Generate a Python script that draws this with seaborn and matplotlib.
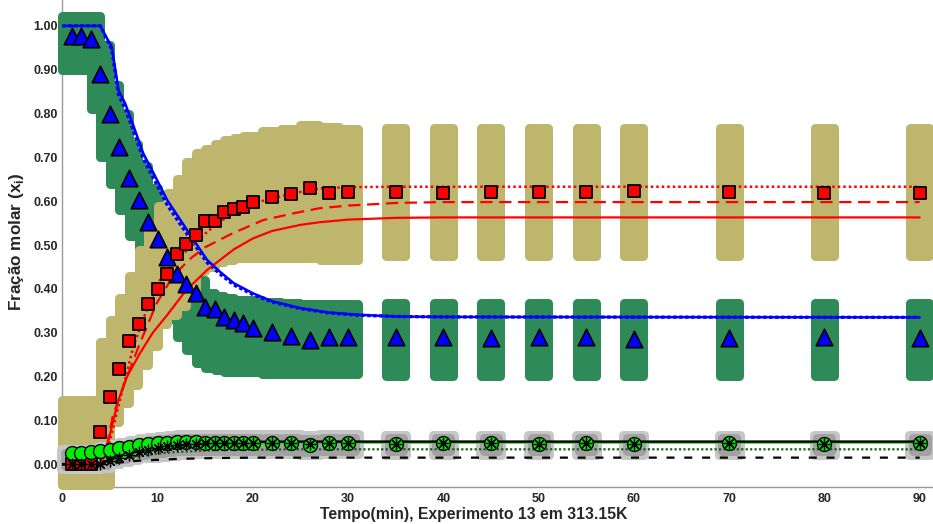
import matplotlib
matplotlib.use("Agg")
import matplotlib.pyplot as plt
from matplotlib.patches import Rectangle
import seaborn as sns

sns.set_theme(style="white")
plt.rcParams['font.family'] = ['Liberation Sans', 'DejaVu Sans']
plt.rcParams['mathtext.fontset'] = 'custom'
plt.rcParams['mathtext.rm'] = 'Liberation Sans'
plt.rcParams['mathtext.bf'] = 'Liberation Sans:bold'

# ---- experimental data (time in min, molar fractions) ----
tempo = [1, 2, 3, 4, 5, 6, 7, 8, 9, 10, 11, 12, 13, 14, 15, 16, 17, 18, 19, 20,
         22, 24, 26, 28, 30, 35, 40, 45, 50, 55, 60, 70, 80, 90]

x_triang = [0.977, 0.977, 0.969, 0.890, 0.800, 0.724, 0.652, 0.603, 0.552, 0.513,
            0.473, 0.435, 0.411, 0.390, 0.359, 0.355, 0.335, 0.329, 0.321, 0.310,
            0.302, 0.292, 0.283, 0.290, 0.290, 0.290, 0.290, 0.287, 0.290, 0.290,
            0.286, 0.288, 0.290, 0.288]
x_quad = [0.000, 0.000, 0.000, 0.073, 0.153, 0.217, 0.280, 0.320, 0.366, 0.399,
          0.434, 0.479, 0.502, 0.523, 0.555, 0.555, 0.575, 0.582, 0.587, 0.599,
          0.609, 0.616, 0.629, 0.618, 0.620, 0.622, 0.618, 0.620, 0.620, 0.620,
          0.623, 0.620, 0.619, 0.618]
x_circ = [0.025, 0.026, 0.027, 0.029, 0.033, 0.036, 0.040, 0.043, 0.046, 0.048,
          0.049, 0.050, 0.050, 0.050, 0.049, 0.049, 0.049, 0.049, 0.049, 0.049,
          0.048, 0.048, 0.044, 0.048, 0.048, 0.047, 0.048, 0.048, 0.047, 0.048,
          0.047, 0.048, 0.047, 0.049]
x_ast = [0.000, 0.000, 0.000, 0.000, 0.008, 0.015, 0.022, 0.028, 0.033, 0.037,
         0.041, 0.044, 0.046, 0.047, 0.048, 0.048, 0.048, 0.048, 0.048, 0.048,
         0.048, 0.048, 0.045, 0.048, 0.048, 0.047, 0.048, 0.048, 0.047, 0.048,
         0.047, 0.048, 0.047, 0.049]

# uncertainty ranges (lower / upper) for each measured point
triang_lo = [0.89, 0.89, 0.89, 0.80, 0.69, 0.63, 0.57, 0.51, 0.47, 0.44,
             0.40, 0.32, 0.28, 0.25, 0.22, 0.21, 0.205, 0.20, 0.20, 0.20,
             0.195, 0.195, 0.195, 0.195, 0.195, 0.19, 0.19, 0.19, 0.19, 0.19,
             0.19, 0.19, 0.19, 0.19]
triang_hi = [1.032, 1.032, 1.032, 0.967, 0.875, 0.81, 0.74, 0.69, 0.64, 0.60,
             0.56, 0.52, 0.46, 0.43, 0.40, 0.395, 0.39, 0.385, 0.385, 0.385,
             0.38, 0.378, 0.376, 0.375, 0.375, 0.377, 0.377, 0.377, 0.377, 0.377,
             0.377, 0.377, 0.377, 0.377]
quad_lo = [-0.057, -0.057, -0.057, -0.057, 0.085, 0.13, 0.17, 0.215, 0.26, 0.31,
           0.33, 0.35, 0.39, 0.43, 0.44, 0.45, 0.455, 0.46, 0.46, 0.46,
           0.46, 0.46, 0.46, 0.455, 0.455, 0.465, 0.465, 0.465, 0.465, 0.465,
           0.465, 0.465, 0.465, 0.465]
quad_hi = [0.157, 0.157, 0.157, 0.157, 0.29, 0.34, 0.39, 0.44, 0.50, 0.55,
           0.60, 0.63, 0.66, 0.70, 0.72, 0.73, 0.74, 0.75, 0.755, 0.76,
           0.77, 0.775, 0.785, 0.78, 0.775, 0.777, 0.777, 0.777, 0.777, 0.777,
           0.777, 0.777, 0.777, 0.777]
circ_lo = [-0.022, -0.022, -0.022, -0.020, -0.010, -0.005, 0.000, 0.003, 0.005, 0.007,
           0.009, 0.011, 0.012, 0.012, 0.012, 0.012, 0.012, 0.012, 0.012, 0.012,
           0.012, 0.012, 0.010, 0.012, 0.012, 0.011, 0.011, 0.011, 0.011, 0.011,
           0.011, 0.011, 0.011, 0.011]
circ_hi = [0.045, 0.045, 0.045, 0.047, 0.052, 0.057, 0.062, 0.066, 0.070, 0.073,
           0.075, 0.078, 0.079, 0.080, 0.080, 0.080, 0.080, 0.080, 0.080, 0.080,
           0.079, 0.079, 0.076, 0.079, 0.079, 0.078, 0.078, 0.078, 0.078, 0.078,
           0.078, 0.078, 0.078, 0.078]
circ_lo_in = [-0.015, -0.015, -0.015, -0.013, -0.004, 0.001, 0.006, 0.010, 0.013, 0.015,
              0.017, 0.019, 0.020, 0.020, 0.020, 0.020, 0.020, 0.020, 0.020, 0.020,
              0.020, 0.020, 0.018, 0.020, 0.020, 0.020, 0.020, 0.020, 0.020, 0.020,
              0.020, 0.020, 0.020, 0.020]
circ_hi_in = [0.036, 0.036, 0.036, 0.038, 0.044, 0.049, 0.054, 0.058, 0.062, 0.065,
              0.067, 0.069, 0.070, 0.071, 0.071, 0.071, 0.071, 0.071, 0.071, 0.071,
              0.071, 0.071, 0.068, 0.071, 0.071, 0.071, 0.071, 0.071, 0.071, 0.071,
              0.071, 0.071, 0.071, 0.071]

# ---- model curves ----
t_azul = [0, 4, 4.6, 5.2, 5.9, 6.6, 7.5, 8.5, 9.6, 11, 12.4, 13.8, 15.2, 16.5, 18,
          20, 22, 25, 28, 31, 35, 40, 90]
y_azul = [1.0, 1.0, 0.975, 0.952, 0.853, 0.823, 0.770, 0.709, 0.663, 0.603, 0.557,
          0.511, 0.466, 0.440, 0.413, 0.390, 0.372, 0.356, 0.346, 0.341, 0.337,
          0.336, 0.335]
y_azul_pont = [1.0, 1.0, 0.972, 0.945, 0.843, 0.812, 0.758, 0.697, 0.651, 0.592,
               0.547, 0.503, 0.460, 0.435, 0.409, 0.387, 0.370, 0.355, 0.345, 0.340,
               0.337, 0.336, 0.335]

t_verm = [0, 4, 4.7, 5.35, 5.9, 6.8, 8.15, 9.5, 11, 13, 15.2, 16.5, 18, 20, 22, 25,
          27, 30, 35, 40, 90]
y_verm = [0, 0, 0.040, 0.100, 0.147, 0.200, 0.253, 0.300, 0.340, 0.397, 0.443,
          0.465, 0.490, 0.515, 0.532, 0.546, 0.552, 0.558, 0.562, 0.563, 0.563]
t_verm_tr = [0, 4, 4.7, 5.3, 6.4, 8.15, 9.9, 11.65, 13.5, 15, 17.9, 21.1, 24.2, 27,
             30, 35, 40, 90]
y_verm_tr = [0, 0, 0.045, 0.110, 0.177, 0.276, 0.367, 0.430, 0.470, 0.495, 0.527,
             0.557, 0.572, 0.584, 0.590, 0.596, 0.598, 0.598]
t_verm_pt = [0, 4, 4.7, 5.3, 6.06, 7.45, 8.86, 10.25, 12, 14.1, 16.5, 20, 24.2, 27,
             30, 35, 40, 90]
y_verm_pt = [0, 0, 0.030, 0.080, 0.147, 0.268, 0.352, 0.420, 0.465, 0.510, 0.553,
             0.595, 0.618, 0.629, 0.632, 0.633, 0.633, 0.633]

t_baixo = [0, 4, 5, 6, 7, 8, 10, 12, 14, 16, 20, 25, 30, 90]
y_preto = [0, 0, 0.012, 0.022, 0.030, 0.036, 0.043, 0.047, 0.049, 0.050, 0.051,
           0.0515, 0.0515, 0.0515]
y_lima = [0, 0, 0.008, 0.016, 0.022, 0.027, 0.034, 0.038, 0.041, 0.043, 0.046,
          0.048, 0.049, 0.049]
y_verde_pt = [0, 0, 0.005, 0.010, 0.014, 0.018, 0.024, 0.028, 0.030, 0.032, 0.033,
              0.034, 0.034, 0.034]
y_preto_tr = [0, 0, 0.002, 0.004, 0.006, 0.008, 0.010, 0.012, 0.013, 0.014, 0.015,
              0.015, 0.015, 0.015]

# ---- figure ----
W, H, DPI = 933, 524, 100
AX_L, AX_B = 62.3, 37
fig = plt.figure(figsize=(W / DPI, H / DPI), dpi=DPI)
ax = fig.add_axes([AX_L / W, AX_B / H, (W - AX_L) / W, (H - AX_B) / H])
XMIN, XMAX = 0, 91.4
YMIN, YMAX = -0.052, 1.059
ax.set_xlim(XMIN, XMAX)
ax.set_ylim(YMIN, YMAX)

px_per_x = (W - AX_L) / (XMAX - XMIN)
px_per_y = (H - AX_B) / (YMAX - YMIN)


def colunas(lo, hi, cor, largura_px, z, raio_px=4.5):
    """Vertical bars with rounded corners spanning [lo, hi] at each time."""
    hw = (largura_px / 2 - raio_px) / px_per_x
    ry = raio_px / px_per_y
    lw = 2 * raio_px * 72 / DPI
    for t, a, b in zip(tempo, lo, hi):
        h = max(b - a - 2 * ry, 0.0)
        ax.add_patch(Rectangle((t - hw, a + ry), 2 * hw, h, facecolor=cor,
                               edgecolor=cor, lw=lw, joinstyle='round',
                               zorder=z, clip_on=False))


colunas(triang_lo, triang_hi, '#2E8B57', 28, 3)
colunas(quad_lo, quad_hi, '#BDB66C', 28, 3.1)
colunas(circ_lo, circ_hi, '#C6C6C6', 30, 3.2)
colunas(circ_lo_in, circ_hi_in, '#A2A2A2', 23, 3.3)

# model lines
sns.lineplot(x=t_azul, y=y_azul_pont, color='#0000FF', lw=2.4, ax=ax, zorder=4,
             estimator=None, sort=False, linestyle=(0, (1, 0.8)))
sns.lineplot(x=t_azul, y=y_azul, color='#0000FF', lw=1.8, ax=ax, zorder=4.1,
             estimator=None, sort=False)
sns.lineplot(x=t_verm, y=y_verm, color='#FF0000', lw=1.6, ax=ax, zorder=4,
             estimator=None, sort=False)
sns.lineplot(x=t_verm_tr, y=y_verm_tr, color='#FF0000', lw=1.6, ax=ax, zorder=4,
             estimator=None, sort=False, linestyle=(0, (5.5, 3)))
sns.lineplot(x=t_verm_pt, y=y_verm_pt, color='#FF0000', lw=1.8, ax=ax, zorder=4,
             estimator=None, sort=False, linestyle=(0, (1, 1.2)))
sns.lineplot(x=t_baixo, y=y_lima, color='#00FF00', lw=1.6, ax=ax, zorder=4,
             estimator=None, sort=False)
sns.lineplot(x=t_baixo, y=y_preto, color='#000000', lw=1.8, ax=ax, zorder=4.1,
             estimator=None, sort=False)
sns.lineplot(x=t_baixo, y=y_verde_pt, color='#1F5A1F', lw=1.6, ax=ax, zorder=4,
             estimator=None, sort=False, linestyle=(0, (1, 1)))
sns.lineplot(x=t_baixo, y=y_preto_tr, color='#000000', lw=1.6, ax=ax, zorder=4,
             estimator=None, sort=False, linestyle=(0, (3.6, 4.4)))

# measured points
sns.scatterplot(x=tempo, y=x_triang, marker='^', s=140, color='#0000FF',
                edgecolor='#000000', linewidth=1.2, ax=ax, zorder=5, clip_on=False)
sns.scatterplot(x=tempo, y=x_quad, marker='s', s=80, color='#FF0000',
                edgecolor='#000000', linewidth=1.3, ax=ax, zorder=5, clip_on=False)
sns.scatterplot(x=tempo, y=x_circ, marker='o', s=100, color='#00EE00',
                edgecolor='#000000', linewidth=1.0, ax=ax, zorder=5.1, clip_on=False)
sns.scatterplot(x=tempo, y=x_ast, marker=(8, 2, 0), s=60, color='#000000',
                linewidth=0.9, ax=ax, zorder=5.2, clip_on=False)

# axes styling
ax.set_xticks(range(0, 91, 10))
ax.set_yticks([i / 10 for i in range(0, 11)])
ax.set_yticklabels([f"{i / 10:.2f}" for i in range(0, 11)])
for s in ('top', 'right'):
    ax.spines[s].set_visible(False)
for s in ('left', 'bottom'):
    ax.spines[s].set_color('#9A9A9A')
    ax.spines[s].set_linewidth(1.0)
    ax.spines[s].set_zorder(2)
ax.tick_params(axis='both', direction='in', length=6, width=1.0, color='#9A9A9A',
               labelsize=9, labelcolor='#262626')
ax.tick_params(axis='y', pad=3)
ax.tick_params(axis='x', pad=4)
for lab in ax.get_xticklabels() + ax.get_yticklabels():
    lab.set_fontweight('bold')

ax.set_xlabel('Tempo(min), Experimento 13 em 313.15K', fontsize=11.3,
              fontweight='bold', color='#262626')
ax.set_ylabel(r'Fração molar (x$_\mathbf{i}$)', fontsize=12.3, fontweight='bold',
              color='#262626')
ax.xaxis.set_label_coords((474 - AX_L) / (W - AX_L), -(515 - (H - AX_B)) / (H - AX_B),
                          transform=ax.transAxes)
ax.xaxis.label.set_va('center')
ax.yaxis.set_label_coords(-(AX_L - 17) / (W - AX_L), (H - AX_B - 242) / (H - AX_B),
                          transform=ax.transAxes)
ax.yaxis.label.set_va('center')

fig.savefig('out.png', dpi=DPI)
